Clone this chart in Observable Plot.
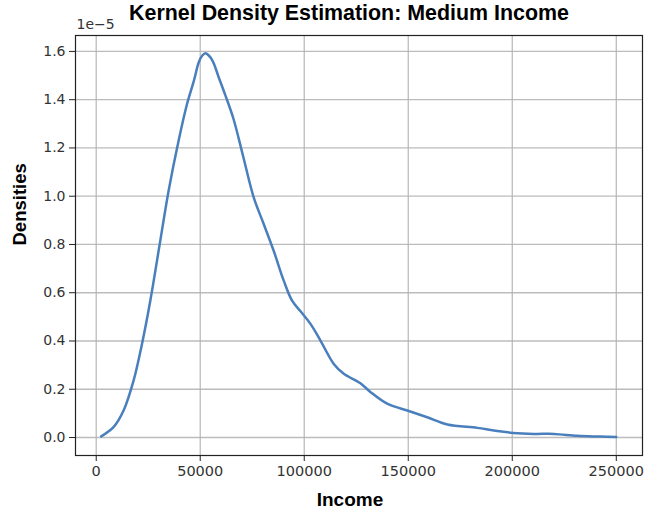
<!DOCTYPE html>
<html><head><meta charset="utf-8">
<script src="https://cdn.jsdelivr.net/npm/d3@7"></script>
<script src="https://cdn.jsdelivr.net/npm/@observablehq/plot@0.6"></script>
<style>body{margin:0;background:#fff}</style>
</head><body><div id="chart"></div>
<script>
const income = [2400, 8300, 13150, 17950, 22000, 26000, 30800, 34800, 39600, 43650, 47000, 49300, 51000, 52500, 54000, 56000, 59000, 62000, 66000, 70500, 75700, 80500, 85300, 90140, 94150, 98500, 103000, 107800, 114200, 119000, 127000, 131900, 139900, 150600, 159100, 168800, 183200, 191200, 200500, 210400, 220100, 231300, 242500, 250000];
// densities in units of 1e-5
const density = [0.005, 0.043, 0.112, 0.236, 0.388, 0.567, 0.816, 1.023, 1.230, 1.382, 1.480, 1.555, 1.583, 1.592, 1.584, 1.560, 1.490, 1.420, 1.320, 1.170, 0.995, 0.885, 0.774, 0.650, 0.567, 0.52, 0.471, 0.402, 0.305, 0.264, 0.225, 0.188, 0.140, 0.109, 0.084, 0.054, 0.040, 0.029, 0.019, 0.015, 0.015, 0.007, 0.004, 0.002];
const xTicks = [0, 50000, 100000, 150000, 200000, 250000];
const yTicks = [0, 0.2, 0.4, 0.6, 0.8, 1.0, 1.2, 1.4, 1.6];
const title = "Kernel Density Estimation: Medium Income";
const xLabel = "Income";
const yLabel = "Densities";
const offsetLabel = "1e\u22125";

const data = income.map((x, i) => ({income: x, density: density[i]}));
const bold = "'Liberation Sans', Arial, Helvetica, sans-serif";

const chart = Plot.plot({
  width: 646, height: 512,
  marginLeft: 75, marginRight: 4, marginTop: 35, marginBottom: 57,
  style: {fontFamily: "'DejaVu Sans', sans-serif", fontSize: "14px", color: "#333", background: "#fff"},
  x: {domain: [-9960, 262600], ticks: xTicks, tickFormat: d3.format("d"), label: null},
  y: {domain: [-0.0745, 1.666], ticks: yTicks, tickFormat: d3.format(".1f"), label: null},
  marks: [
    Plot.gridX(xTicks, {stroke: "#b0b0b0", strokeOpacity: 0.85, strokeWidth: 1.3}),
    Plot.gridY(yTicks, {stroke: "#b0b0b0", strokeOpacity: 0.85, strokeWidth: 1.3}),
    Plot.line(data, {x: "income", y: "density", stroke: "#4a7fbd", strokeWidth: 2.5, curve: "catmull-rom"}),
    Plot.frame({stroke: "#222", strokeWidth: 1.2}),
    Plot.axisX(xTicks, {tickSize: 6, tickPadding: 4, fontSize: 14.5, tickFormat: d3.format("d"), label: null, stroke: "#222"}),
    Plot.axisY(yTicks, {tickSize: 6, tickPadding: 4, fontSize: 14, tickFormat: d3.format(".1f"), label: null, stroke: "#222"}),
    Plot.text([title], {text: d => d, frameAnchor: "top", lineAnchor: "middle", dx: -10, dy: -22.5, fontSize: 21.4, fontWeight: "bold", fontFamily: bold, fill: "#000"}),
    Plot.text([offsetLabel], {text: d => d, frameAnchor: "top-left", lineAnchor: "middle", dx: 1, dy: -11, textAnchor: "start", fontSize: 14, fill: "#333"}),
    Plot.text([xLabel], {text: d => d, frameAnchor: "bottom", lineAnchor: "middle", dx: -9, dy: 44.5, fontSize: 19, fontWeight: "bold", fontFamily: bold, fill: "#000"}),
    Plot.text([yLabel], {text: d => d, frameAnchor: "left", lineAnchor: "middle", dx: -55, rotate: -90, fontSize: 18.5, fontWeight: "bold", fontFamily: bold, fill: "#000"})
  ]
});
document.getElementById("chart").append(chart);
</script>
</body></html>
